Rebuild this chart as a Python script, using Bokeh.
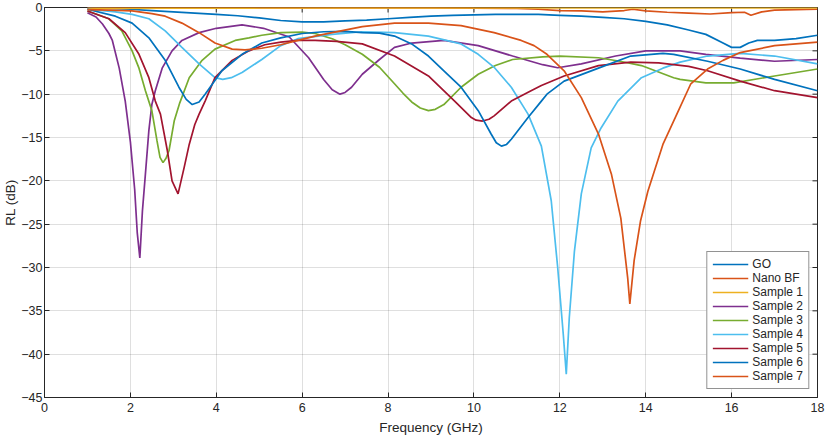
import math
from bokeh.plotting import figure
from bokeh.models import Range1d, FixedTicker, Legend, LegendItem
from bokeh.embed import file_html
from bokeh.resources import INLINE

# ---------------- data ----------------
x_ticks = [0, 2, 4, 6, 8, 10, 12, 14, 16, 18]
y_ticks = [-45, -40, -35, -30, -25, -20, -15, -10, -5, 0]

series_names = ["GO", "Nano BF", "Sample 1", "Sample 2", "Sample 3",
                "Sample 4", "Sample 5", "Sample 6", "Sample 7"]
series_colors = ["#0072BD", "#D95319", "#EDB120", "#7E2F8E", "#77AC30",
                 "#4DBEEE", "#A2142F", "#0072BD", "#D95319"]

go_x = [1, 1.5, 2, 2.5, 3, 3.5, 4, 4.5, 5, 5.5, 6, 6.5, 7, 7.5, 8, 8.5, 9, 9.5,
        10, 10.5, 11, 11.5, 12, 12.5, 13, 13.5, 14, 14.5, 15, 15.4, 15.8, 16.0,
        16.2, 16.4, 16.6, 17, 17.5, 18]
go_y = [0.0, -0.1, -0.2, -0.35, -0.5, -0.65, -0.8, -0.95, -1.2, -1.5, -1.65, -1.65,
        -1.55, -1.45, -1.3, -1.15, -1.0, -0.9, -0.85, -0.8, -0.8, -0.8, -0.9, -1.0,
        -1.15, -1.3, -1.6, -2.0, -2.6, -3.1, -4.1, -4.6, -4.6, -4.1, -3.8, -3.8,
        -3.6, -3.2]

nano_x = [1, 2, 3, 4, 5, 6, 7, 8, 9, 10, 11, 11.5, 12, 12.5, 13, 13.5, 13.7, 14,
          14.5, 15, 15.5, 16, 16.3, 16.45, 16.7, 17, 17.5, 18]
nano_y = [-0.05, -0.05, -0.05, -0.05, -0.05, -0.05, -0.05, -0.05, -0.05, -0.08,
          -0.1, -0.2, -0.35, -0.4, -0.5, -0.35, -0.2, -0.4, -0.55, -0.65, -0.75,
          -0.6, -0.55, -0.9, -0.5, -0.3, -0.25, -0.2]

s1_x = [1, 3, 5, 7, 9, 11, 13, 15, 17, 18]
s1_y = [-0.1, -0.08, -0.06, -0.05, -0.05, -0.05, -0.05, -0.05, -0.05, -0.05]

s2_x = [1, 1.2, 1.35, 1.5, 1.58, 1.74, 1.88, 2.0, 2.1, 2.16, 2.22, 2.28, 2.35, 2.43,
        2.5, 2.58, 2.74, 2.97, 3.2, 3.6, 4.0, 4.6, 5.1, 5.7, 6.15, 6.5, 6.7, 6.88,
        7.0, 7.15, 7.4, 7.8, 8.15, 8.55, 9.3, 10.1, 10.9, 11.6, 11.95, 12.5, 13.3,
        14.0, 14.8, 15.4, 16.2, 17.0, 18]
s2_y = [-0.6, -1.1, -1.9, -3.0, -3.8, -7.0, -10.8, -15.5, -21.0, -26.0, -28.9,
        -23.5, -19.2, -14.2, -11.2, -9.6, -7.0, -5.0, -3.8, -2.9, -2.4, -2.0, -2.4,
        -3.4, -5.8, -8.3, -9.5, -10.0, -9.8, -9.2, -7.7, -6.0, -4.6, -4.1, -3.8,
        -4.4, -5.6, -6.6, -6.95, -6.5, -5.6, -5.0, -5.0, -5.4, -5.85, -6.2, -6.0]

s3_x = [1, 1.5, 1.8, 2.04, 2.2, 2.35, 2.5, 2.62, 2.69, 2.76, 2.83, 2.9, 3.02, 3.15,
        3.37, 3.67, 3.97, 4.44, 4.76, 5.06, 5.5, 6.0, 6.3, 6.7, 7.0, 7.4, 7.8, 8.15,
        8.35, 8.55, 8.75, 8.94, 9.1, 9.3, 9.7, 10.1, 10.5, 10.9, 11.6, 12.0, 12.9,
        13.4, 13.9, 14.65, 14.8, 15.4, 16.05, 17, 18]
s3_y = [-0.4, -1.3, -2.7, -5.0, -7.0, -9.6, -11.9, -15.4, -17.3, -17.9, -17.4,
        -16.5, -13.1, -11.0, -8.1, -6.1, -4.8, -3.8, -3.5, -3.2, -2.9, -2.85, -3.0,
        -3.6, -4.3, -5.4, -6.9, -8.8, -9.9, -10.9, -11.6, -11.9, -11.75, -11.2,
        -9.2, -7.7, -6.7, -6.0, -5.7, -5.6, -5.8, -6.2, -6.7, -8.1, -8.3, -8.7,
        -8.7, -7.9, -7.1]

s4_x = [1, 1.65, 2.04, 2.43, 2.81, 3.2, 3.6, 3.97, 4.15, 4.35, 4.6, 5.06, 5.5, 5.9,
        6.7, 7.4, 8.15, 8.94, 9.7, 10.1, 10.47, 10.87, 11.26, 11.57, 11.8, 11.95,
        12.08, 12.15, 12.22, 12.34, 12.5, 12.73, 12.96, 13.35, 13.9, 14.4, 14.8,
        15.44, 16.2, 17, 18]
s4_y = [-0.2, -0.5, -0.8, -1.3, -2.7, -4.6, -6.5, -8.1, -8.3, -8.1, -7.5, -6.0,
        -4.4, -3.6, -3.1, -2.8, -2.9, -3.3, -4.2, -5.4, -6.9, -9.2, -12.3, -16.0,
        -22.3, -30.0, -37.7, -42.3, -35.8, -28.1, -21.5, -16.2, -13.9, -10.8, -8.1,
        -7.0, -6.3, -5.6, -5.3, -5.6, -6.5]

s5_x = [1, 1.5, 1.88, 2.2, 2.43, 2.58, 2.7, 2.86, 2.97, 3.11, 3.25, 3.37, 3.5, 3.6,
        3.74, 3.97, 4.37, 4.76, 5.13, 5.5, 5.9, 6.3, 6.8, 7.4, 8.15, 8.94, 9.55,
        9.94, 10.05, 10.2, 10.35, 10.47, 10.87, 11.33, 11.57, 12.1, 12.9, 13.65,
        14.3, 15.0, 15.44, 16.2, 17, 18]
s5_y = [-0.4, -1.3, -2.9, -5.4, -8.1, -10.8, -12.3, -16.5, -20.0, -21.5, -18.5,
        -15.8, -13.5, -12.3, -10.8, -8.1, -6.1, -5.0, -4.3, -4.0, -3.8, -3.8, -3.9,
        -4.2, -5.6, -7.9, -10.8, -12.7, -13.0, -13.1, -12.9, -12.5, -10.8, -9.6,
        -9.0, -7.9, -6.7, -6.3, -6.4, -6.8, -7.3, -8.5, -9.6, -10.4]

s6_x = [1, 1.65, 2.04, 2.43, 2.81, 3.13, 3.3, 3.44, 3.6, 3.74, 4.13, 4.6, 5.06,
        5.5, 6.0, 6.5, 7.0, 7.4, 7.8, 8.15, 8.55, 8.94, 9.3, 9.7, 10.1, 10.4, 10.52,
        10.64, 10.76, 10.87, 11.26, 11.57, 11.7, 12.1, 12.9, 13.65, 14.4, 14.65,
        15.44, 16.2, 17, 18]
s6_y = [-0.2, -1.0, -1.8, -3.5, -6.1, -9.2, -10.6, -11.2, -10.9, -10.0, -7.3,
        -5.4, -4.1, -3.5, -3.0, -2.8, -2.75, -2.9, -2.95, -3.3, -4.2, -5.6, -7.3,
        -9.2, -11.9, -14.6, -15.6, -16.0, -15.8, -15.2, -12.7, -10.8, -10.0, -8.5,
        -7.0, -5.6, -5.3, -5.4, -6.2, -7.1, -8.3, -9.6]

s7_x = [1, 1.5, 2.04, 2.5, 2.81, 3.2, 3.6, 3.97, 4.37, 4.67, 5.06, 5.5, 5.9, 6.3,
        6.7, 7.4, 8.15, 8.94, 9.7, 10.47, 11.1, 11.4, 11.7, 12.1, 12.5, 12.9, 13.2,
        13.42, 13.58, 13.63, 13.73, 13.88, 14.05, 14.4, 14.8, 15.05, 15.44, 15.8,
        16.2, 17, 18]
s7_y = [-0.25, -0.3, -0.4, -0.7, -1.0, -1.8, -2.9, -4.1, -4.8, -4.9, -4.7, -4.3,
        -3.8, -3.3, -2.9, -2.2, -1.8, -1.8, -2.1, -2.9, -3.8, -4.4, -5.4, -7.3,
        -10.4, -14.6, -19.2, -24.3, -31.2, -34.2, -29.2, -24.6, -21.2, -15.8,
        -11.5, -8.8, -7.1, -6.1, -5.2, -4.4, -4.0]

series_x = [go_x, nano_x, s1_x, s2_x, s3_x, s4_x, s5_x, s6_x, s7_x]
series_y = [go_y, nano_y, s1_y, s2_y, s3_y, s4_y, s5_y, s6_y, s7_y]

# ---------------- figure ----------------
FONT = "Liberation Sans"
DARK = "#262626"
X0, X1, Y0, Y1 = 0, 18, -45, 0

p = figure(width=827, height=437, x_range=Range1d(X0, X1), y_range=Range1d(Y0, Y1),
           output_backend="svg", toolbar_location=None,
           min_border_left=0, min_border_right=10, min_border_top=7,
           min_border_bottom=0)
p.background_fill_color = "white"
p.border_fill_color = "white"
p.outline_line_color = DARK
p.outline_line_width = 1

xt = FixedTicker(ticks=x_ticks)
yt = FixedTicker(ticks=y_ticks)

for ax in (p.xaxis[0], p.yaxis[0]):
    ax.axis_line_color = DARK
    ax.major_tick_in = 5
    ax.major_tick_out = 0
    ax.major_tick_line_color = DARK
    ax.minor_tick_line_color = None
    ax.major_label_text_color = DARK
    ax.major_label_text_font = FONT
    ax.major_label_text_font_size = "12.5px"
    ax.axis_label_text_font = FONT
    ax.axis_label_text_font_size = "13.5px"
    ax.axis_label_text_font_style = "normal"
    ax.axis_label_text_color = DARK

p.xaxis.ticker = xt
p.yaxis.ticker = yt
p.xaxis.axis_label = "Frequency (GHz)"
p.yaxis.axis_label = "RL (dB)"
p.xaxis.major_label_standoff = 5
p.xaxis.axis_label_standoff = 5
p.yaxis.major_label_standoff = 2
p.yaxis.axis_label_standoff = 0

p.xgrid.ticker = xt
p.ygrid.ticker = yt
p.grid.grid_line_color = DARK
p.grid.grid_line_alpha = 0.15

# tick marks on the top and right edges (half of each dash is clipped by the frame)
p.scatter(x_ticks, [Y1] * len(x_ticks), marker="dash", size=10, angle=math.pi / 2,
          line_color=DARK, line_width=1)
p.scatter([X1] * len(y_ticks), y_ticks, marker="dash", size=10,
          line_color=DARK, line_width=1)

items = []
for name, color, xs, ys in zip(series_names, series_colors, series_x, series_y):
    r = p.line(xs, ys, line_color=color, line_width=1.7)
    items.append(LegendItem(label=name, renderers=[r]))

legend = Legend(items=items, location="bottom_right")
legend.margin = 8
legend.padding = 5
legend.spacing = 0
legend.glyph_width = 36
legend.glyph_height = 14
legend.label_height = 14
legend.label_standoff = 4
legend.label_text_font = FONT
legend.label_text_font_size = "12px"
legend.label_text_color = DARK
legend.border_line_color = DARK
legend.border_line_width = 1
legend.background_fill_color = "white"
legend.background_fill_alpha = 1
p.add_layout(legend)

open("out.html", "w").write(file_html(p, INLINE))
